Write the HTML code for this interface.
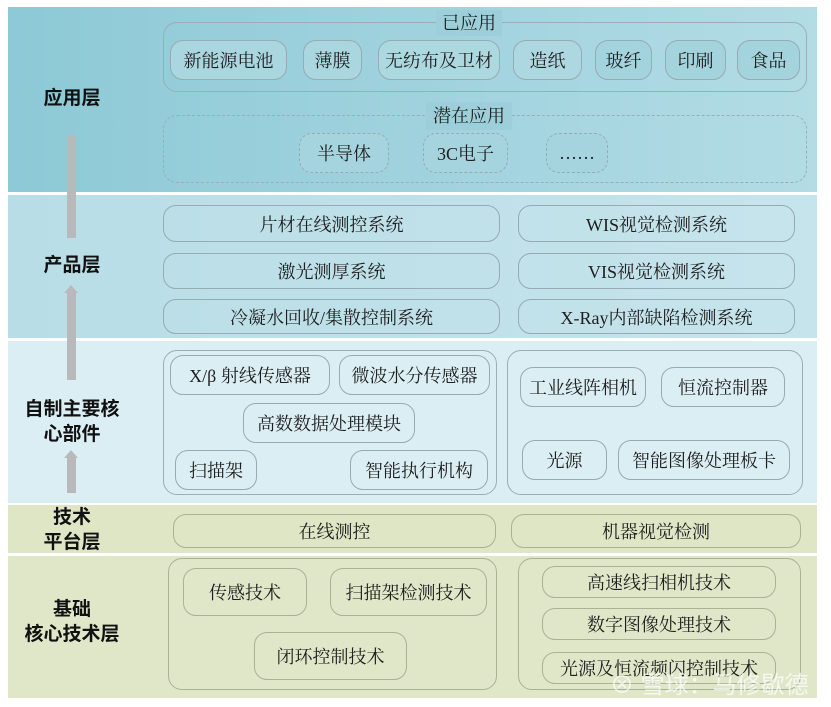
<!DOCTYPE html>
<html><head><meta charset="utf-8"><style>
*{margin:0;padding:0;box-sizing:border-box}
body{width:831px;height:707px;background:#fff;position:relative;overflow:hidden;font-family:"Liberation Serif","Noto Serif CJK SC",serif;color:#222}
.a{position:absolute}
.band{position:absolute;left:8px;width:809px}
.b{position:absolute;border:1.5px solid #98aab2;border-radius:13px;display:flex;align-items:center;justify-content:center;font-size:18px;color:#1e1e1e;white-space:nowrap}
.c{position:absolute;border:1.5px solid #9cadb4;border-radius:14px}
.lbl{position:absolute;font-family:"Liberation Sans","Noto Sans CJK SC",sans-serif;font-weight:bold;font-size:19px;color:#111;text-align:center;line-height:25px}
.g .b,.g .c{border-color:#aab195}
.sh{position:absolute;left:67px;width:9px;background:#b9b9bb}
.ah{position:absolute;left:64px;width:0;height:0;border-left:7.5px solid transparent;border-right:7.5px solid transparent;border-bottom:8px solid #b9b9bb}
</style></head><body>
<div class="band" style="top:7px;height:185px;background:linear-gradient(90deg,#8dc9d6,#a3d4df 60%,#b3dce5)"></div>
<div class="band" style="top:195px;height:143px;background:linear-gradient(90deg,#b8dde6,#c6e4ec)"></div>
<div class="band" style="top:341px;height:162px;background:#dbeef4"></div>
<div class="band" style="top:505px;height:48px;background:#dfe6c5"></div>
<div class="band" style="top:556px;height:142px;background:#dfe7c8"></div>

<div class="sh" style="top:135px;height:103px"></div>
<div class="sh" style="top:292px;height:88px"></div><div class="ah" style="top:285px"></div>
<div class="sh" style="top:457px;height:36px"></div><div class="ah" style="top:450px"></div>

<div class="lbl" style="left:22px;width:100px;top:86px">应用层</div>
<div class="lbl" style="left:22px;width:100px;top:253px">产品层</div>
<div class="lbl" style="left:16px;width:112px;top:397px">自制主要核<br>心部件</div>
<div class="lbl" style="left:22px;width:100px;top:505px">技术<br>平台层</div>
<div class="lbl" style="left:16px;width:112px;top:597px">基础<br>核心技术层</div>

<div class="c" style="left:163px;top:22px;width:644px;height:70px"></div>
<div class="a" style="left:436px;top:10px;width:66px;height:26px;background:#9ccfda;font-size:18px;text-align:center;line-height:26px">已应用</div>
<div class="b" style="left:170px;top:40px;width:117px;height:40px;background:#a9d6df">新能源电池</div>
<div class="b" style="left:303px;top:40px;width:59px;height:40px;background:#a9d6df">薄膜</div>
<div class="b" style="left:378px;top:40px;width:122px;height:40px;background:#acd8e0">无纺布及卫材</div>
<div class="b" style="left:513px;top:40px;width:69px;height:40px;background:#aed8e1">造纸</div>
<div class="b" style="left:595px;top:40px;width:57px;height:40px;background:#a3d3dd">玻纤</div>
<div class="b" style="left:665px;top:40px;width:61px;height:40px;background:#a3d3dd">印刷</div>
<div class="b" style="left:737px;top:40px;width:63px;height:40px;background:#a3d3dd">食品</div>

<div class="c" style="left:163px;top:115px;width:644px;height:68px;border-style:dashed"></div>
<div class="a" style="left:426px;top:102px;width:86px;height:28px;background:#9ccfda;font-size:18px;text-align:center;line-height:28px">潜在应用</div>
<div class="b" style="left:299px;top:133px;width:90px;height:40px;border-style:dashed;background:#a6d4de">半导体</div>
<div class="b" style="left:423px;top:133px;width:85px;height:40px;border-style:dashed;background:#a6d4de">3C电子</div>
<div class="b" style="left:546px;top:133px;width:62px;height:40px;border-style:dashed;background:#a6d4de">……</div>

<div class="b" style="left:163px;top:205px;width:337px;height:37px">片材在线测控系统</div>
<div class="b" style="left:163px;top:253px;width:337px;height:36px">激光测厚系统</div>
<div class="b" style="left:163px;top:299px;width:337px;height:35px">冷凝水回收/集散控制系统</div>
<div class="b" style="left:518px;top:205px;width:277px;height:37px">WIS视觉检测系统</div>
<div class="b" style="left:518px;top:253px;width:277px;height:36px">VIS视觉检测系统</div>
<div class="b" style="left:518px;top:299px;width:277px;height:35px">X-Ray内部缺陷检测系统</div>

<div class="c" style="left:163px;top:350px;width:334px;height:145px"></div>
<div class="b" style="left:170px;top:355px;width:160px;height:40px">X/β 射线传感器</div>
<div class="b" style="left:339px;top:355px;width:151px;height:40px">微波水分传感器</div>
<div class="b" style="left:243px;top:403px;width:172px;height:40px">高数数据处理模块</div>
<div class="b" style="left:175px;top:450px;width:82px;height:40px">扫描架</div>
<div class="b" style="left:350px;top:450px;width:138px;height:40px">智能执行机构</div>
<div class="c" style="left:507px;top:350px;width:296px;height:145px"></div>
<div class="b" style="left:520px;top:367px;width:126px;height:40px">工业线阵相机</div>
<div class="b" style="left:661px;top:367px;width:124px;height:40px">恒流控制器</div>
<div class="b" style="left:522px;top:440px;width:85px;height:40px">光源</div>
<div class="b" style="left:618px;top:440px;width:172px;height:40px">智能图像处理板卡</div>

<div class="g">
<div class="b" style="left:173px;top:514px;width:323px;height:34px">在线测控</div>
<div class="b" style="left:511px;top:514px;width:290px;height:34px">机器视觉检测</div>
<div class="c" style="left:168px;top:558px;width:329px;height:132px"></div>
<div class="b" style="left:183px;top:568px;width:124px;height:48px">传感技术</div>
<div class="b" style="left:330px;top:568px;width:157px;height:48px">扫描架检测技术</div>
<div class="b" style="left:254px;top:632px;width:153px;height:48px">闭环控制技术</div>
<div class="c" style="left:518px;top:558px;width:283px;height:132px"></div>
<div class="b" style="left:542px;top:566px;width:234px;height:32px">高速线扫相机技术</div>
<div class="b" style="left:542px;top:608px;width:234px;height:32px">数字图像处理技术</div>
<div class="b" style="left:542px;top:652px;width:234px;height:32px">光源及恒流频闪控制技术</div>
</div>
<div class="a" style="left:610px;top:665px;font-family:'Liberation Sans','Noto Sans CJK SC',sans-serif;font-size:24px;color:rgba(255,255,255,0.7);white-space:nowrap">⊗ 雪球：马修歇德</div>
</body></html>
